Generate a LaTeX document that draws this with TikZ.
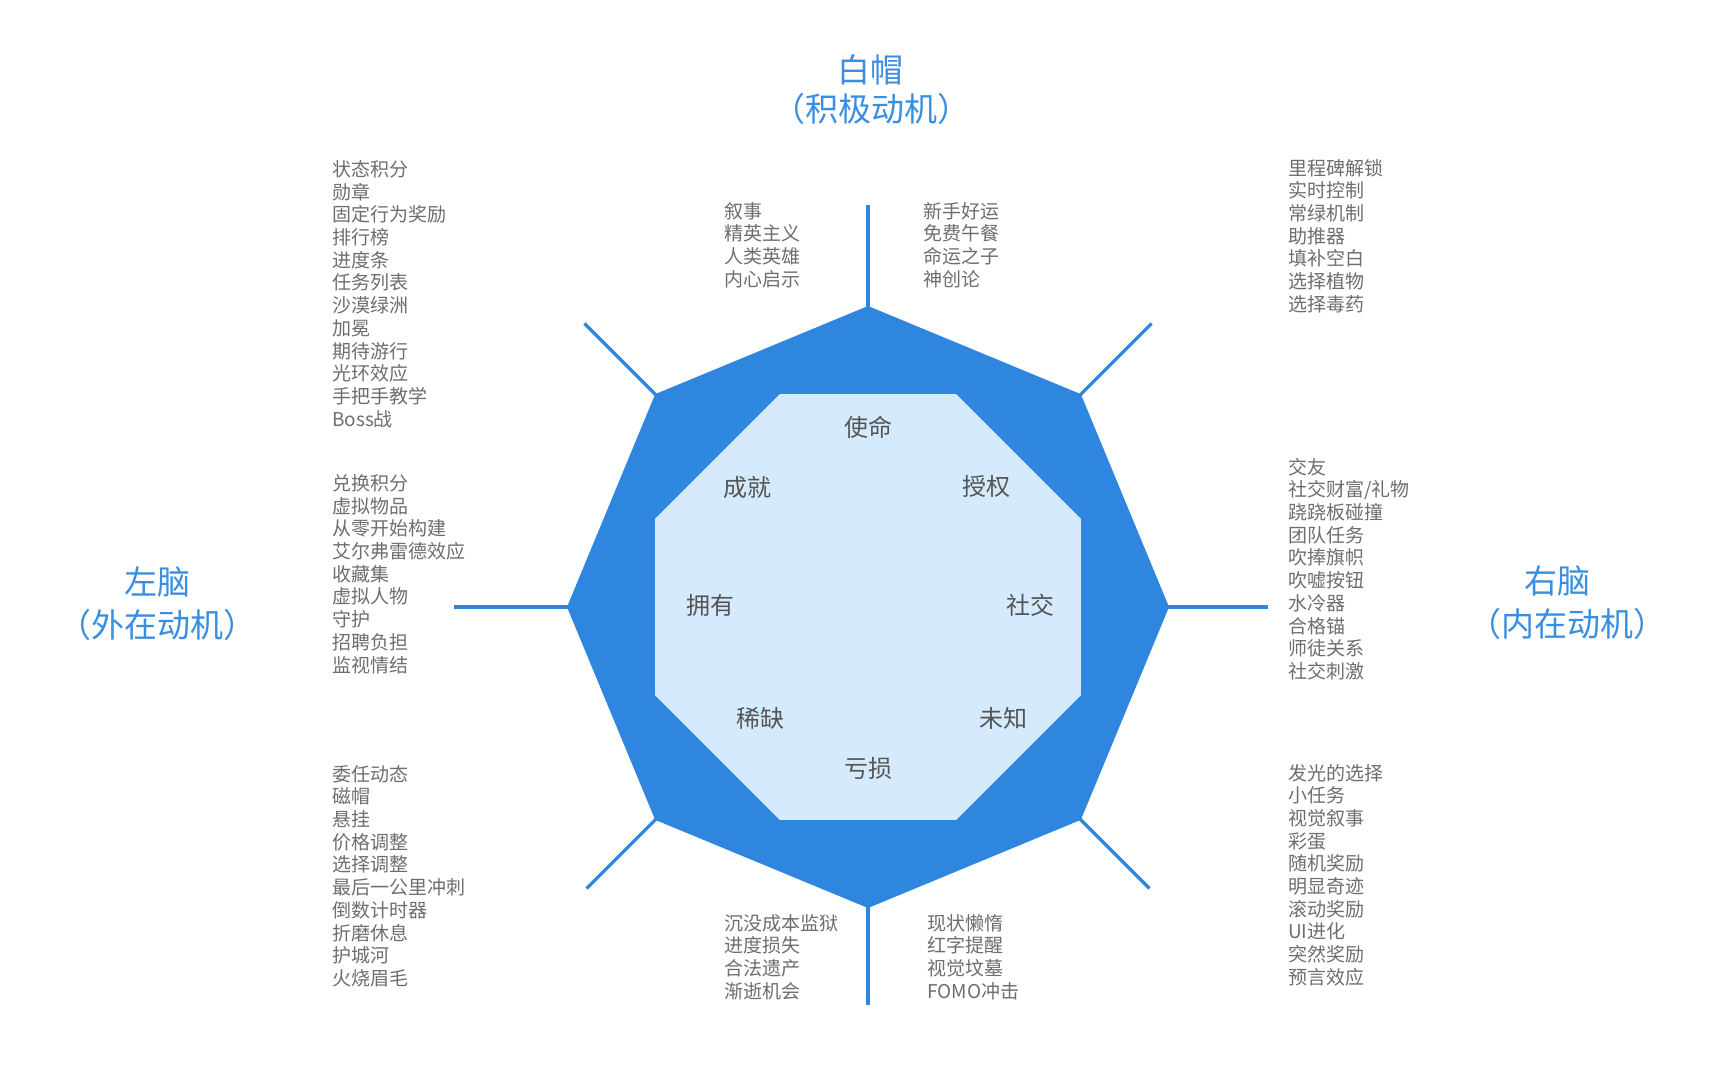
\documentclass[tikz,border=0pt]{standalone}
\usepackage{fontspec}
\setmainfont{Noto Sans CJK SC}
\definecolor{octblue}{HTML}{2E86DE}
\definecolor{octlight}{HTML}{D5EAFD}
\definecolor{titleblue}{HTML}{3A8EE0}
\definecolor{listgray}{HTML}{6E6E6E}
\definecolor{labelgray}{HTML}{555555}
\tikzset{
  listtxt/.style={font=\fontsize{19}{22.7}\selectfont, text=listgray, align=left, inner sep=0pt, anchor=west},
  cattxt/.style={font=\fontsize{24}{28}\selectfont, text=labelgray, inner sep=0pt, anchor=center},
  titletxt/.style={font=\fontsize{33}{40}\selectfont, text=titleblue, inner sep=0pt, anchor=center},
  spoke/.style={draw=octblue, line width=3.2pt}
}
\begin{document}
\begin{tikzpicture}[x=1pt,y=-1pt]
\useasboundingbox[fill=white] (0,0) rectangle (1736,1072);

% octagons
\begin{scope}[shift={(868,607)}]
  \fill[octblue] (0:301) \foreach \a in {45,90,...,315} { -- (\a:301) } -- cycle;
  \fill[octlight] (22.5:230.5) \foreach \a in {67.5,112.5,...,337.5} { -- (\a:230.5) } -- cycle;
  \foreach \a/\n in {0/r,45/lr,90/b,135/ll,180/l,225/ul,270/t,315/ur} {
    \coordinate (v-\n) at (\a:300);
  }
  \foreach \a/\n/\r in {0/r/400,45/lr/398,90/b/398,135/ll/398,180/l/414,225/ul/401,270/t/402,315/ur/401} {
    \coordinate (e-\n) at (\a:\r);
  }
\end{scope}
\foreach \n in {r,lr,b,ll,l,ul,t,ur} { \draw[spoke] (v-\n) -- (e-\n); }

% category labels
\node[cattxt] (mission) at (868,427) {使命};
\node[cattxt] (empower) at (986,486) {授权};
\node[cattxt] (social) at (1030,605) {社交};
\node[cattxt] (unknown) at (1003,718) {未知};
\node[cattxt] (loss) at (868,768) {亏损};
\node[cattxt] (scarcity) at (760,718) {稀缺};
\node[cattxt] (owner) at (710,605) {拥有};
\node[cattxt] (achieve) at (747,487) {成就};

% titles
\node[titletxt] (wh1) at (870,69.5) {白帽};
\node[titletxt] (wh2) at (871,108.5) {（积极动机）};
\node[titletxt] (lb1) at (157,582) {左脑};
\node[titletxt] (lb2) at (157,625) {（外在动机）};
\node[titletxt] (rb1) at (1557,581) {右脑};
\node[titletxt] (rb2) at (1567,624) {（内在动机）};

% lists
\node[listtxt] (ul) at (332,294) {状态积分\\勋章\\固定行为奖励\\排行榜\\进度条\\任务列表\\沙漠绿洲\\加冕\\期待游行\\光环效应\\手把手教学\\Boss战};
\node[listtxt] (ml) at (332,574) {兑换积分\\虚拟物品\\从零开始构建\\艾尔弗雷德效应\\收藏集\\虚拟人物\\守护\\招聘负担\\监视情结};
\node[listtxt] (ll) at (332,876) {委任动态\\磁帽\\悬挂\\价格调整\\选择调整\\最后一公里冲刺\\倒数计时器\\折磨休息\\护城河\\火烧眉毛};
\node[listtxt] (tml) at (724,245) {叙事\\精英主义\\人类英雄\\内心启示};
\node[listtxt] (tmr) at (923,245) {新手好运\\免费午餐\\命运之子\\神创论};
\node[listtxt] (bml) at (724,957) {沉没成本监狱\\进度损失\\合法遗产\\渐逝机会};
\node[listtxt] (bmr) at (927,957) {现状懒惰\\红字提醒\\视觉坟墓\\FOMO冲击};
\node[listtxt] (ur) at (1288,236) {里程碑解锁\\实时控制\\常绿机制\\助推器\\填补空白\\选择植物\\选择毒药};
\node[listtxt] (mr) at (1288,569) {交友\\社交财富/礼物\\跷跷板碰撞\\团队任务\\吹捧旗帜\\吹嘘按钮\\水冷器\\合格锚\\师徒关系\\社交刺激};
\node[listtxt] (lr) at (1288,875) {发光的选择\\小任务\\视觉叙事\\彩蛋\\随机奖励\\明显奇迹\\滚动奖励\\UI进化\\突然奖励\\预言效应};
\end{tikzpicture}
\end{document}
